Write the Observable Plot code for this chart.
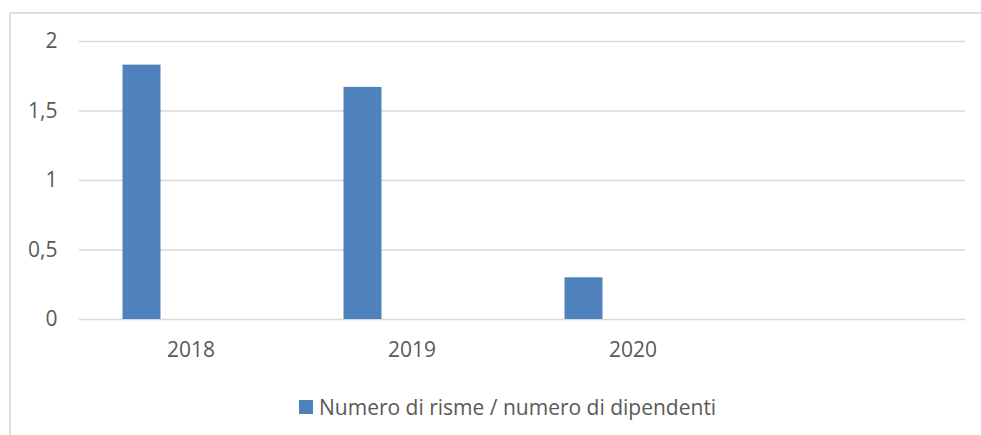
<!DOCTYPE html>
<html>
<head>
<meta charset="utf-8">
<script src="https://cdn.jsdelivr.net/npm/d3@7"></script>
<script src="https://cdn.jsdelivr.net/npm/@observablehq/plot@0.6"></script>
<style>
  html, body { margin: 0; padding: 0; background: #ffffff; }
  #chart { position: relative; width: 981px; height: 435px; overflow: hidden; background: #fff; }
  #frame { position: absolute; left: 9px; top: 12px; width: 1000px; height: 500px; border: 2px solid #dedede; box-sizing: border-box; }
  #plot { position: absolute; left: 0; top: 0; }
  #legend { position: absolute; left: 299px; top: 390px; }
  .lg-swatch > svg { margin-right: 6px !important; }
  .lg-swatch { margin-right: 0 !important; }
</style>
</head>
<body>
<div id="chart">
  <div id="frame"></div>
  <div id="plot"></div>
  <div id="legend"></div>
</div>
<script>
const categories = ["2018", "2019", "2020", ""];
const values = [1.83, 1.67, 0.30, null];
const yTicks = [0, 0.5, 1, 1.5, 2];
const seriesName = "Numero di risme / numero di dipendenti";
const barColor = "#4f81bd";

const data = categories
  .map((c, i) => ({year: c, value: values[i]}))
  .filter(d => d.value != null);

const font = "'Open Sans', sans-serif";

const chart = Plot.plot({
  width: 981,
  height: 370,
  marginLeft: 79,
  marginRight: 16,
  marginTop: 41,
  marginBottom: 51,
  style: {fontFamily: font, fontSize: "21px", color: "#595959", background: "transparent"},
  x: {domain: categories, padding: 0, label: null, tickSize: 0, tickPadding: 23},
  y: {domain: [0, 2], ticks: yTicks, label: null, tickSize: 0, tickPadding: 22,
      tickFormat: d => String(d).replace(".", ",")},
  marks: [
    Plot.gridY(yTicks, {stroke: "#d9d9d9", strokeOpacity: 1, strokeWidth: 1.6}),
    Plot.barY(data, {x: "year", y: "value", fill: barColor, insetLeft: 42.5, insetRight: 140.5})
  ]
});
document.getElementById("plot").appendChild(chart);

const legend = Plot.legend({
  color: {domain: [seriesName], range: [barColor]},
  legend: "swatches",
  swatchSize: 14,
  className: "lg",
  style: {fontFamily: font, fontSize: "21px", color: "#595959"}
});
document.getElementById("legend").appendChild(legend);
</script>
</body>
</html>
